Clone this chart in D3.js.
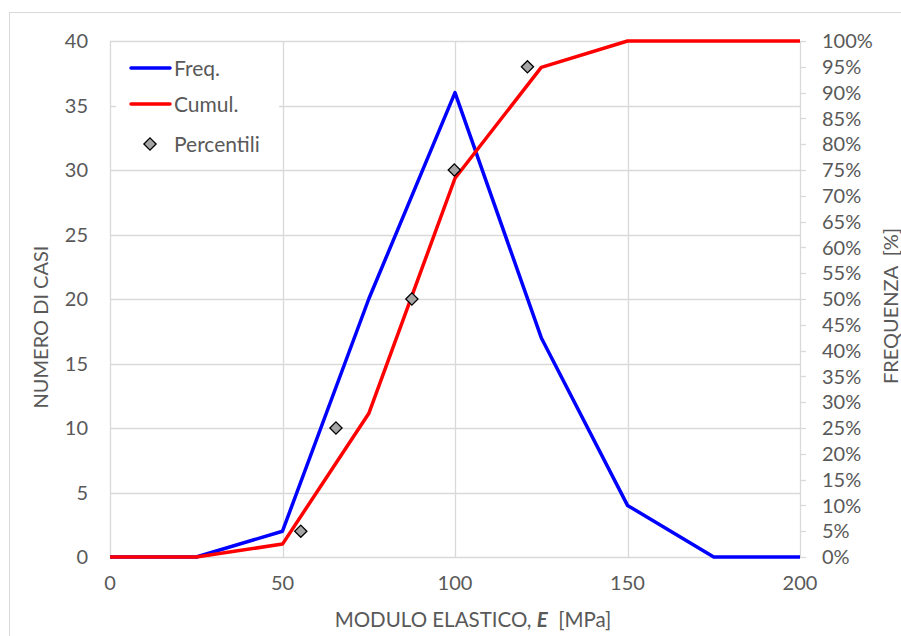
<!DOCTYPE html>
<html>
<head>
<meta charset="utf-8">
<script src="https://cdn.jsdelivr.net/npm/d3@7"></script>
<style>
  html, body { margin: 0; padding: 0; background: #fff; }
  svg { display: block; }
  text { font-family: Lato, "Open Sans", sans-serif; fill: #595959; }
</style>
</head>
<body>
<svg id="chart" width="901" height="636"></svg>
<script>
// Elastic modulus classes [MPa]
const moduli = [0, 25, 50, 75, 100, 125, 150, 175, 200];
// Number of cases per class
const frequency = [0, 0, 2, 20, 36, 17, 4, 0, 0];
// Cumulative frequency [%]
const cumulative = [0, 0, 2.5, 27.8, 73.4, 94.9, 100, 100, 100];
// Percentiles: modulus [MPa] and level [%]
const percentileE = [55.3, 65.5, 87.5, 99.8, 121];
const percentileLevel = [5, 25, 50, 75, 95];
// Axis ticks
const xTicks = [0, 50, 100, 150, 200];
const yTicks = [0, 5, 10, 15, 20, 25, 30, 35, 40];
const pctTicks = d3.range(0, 101, 5);

const svg = d3.select("#chart");
const plotL = 110, plotR = 800, plotT = 41, plotB = 557;

const x = d3.scaleLinear().domain([0, 200]).range([plotL, plotR]);
const y = d3.scaleLinear().domain([0, 40]).range([plotB, plotT]);
const yPct = d3.scaleLinear().domain([0, 100]).range([plotB, plotT]);

// chart frame
svg.append("rect").attr("x", 9.5).attr("y", 12.5).attr("width", 1000).attr("height", 1000)
  .attr("fill", "#fff").attr("stroke", "#d9d9d9");

// gridlines
const grid = svg.append("g").attr("stroke", "#d9d9d9").attr("stroke-width", 1.3);
grid.selectAll(".h").data(yTicks).join("line").attr("class", "h")
  .attr("x1", plotL).attr("x2", plotR)
  .attr("y1", d => Math.round(y(d)) + 0.5).attr("y2", d => Math.round(y(d)) + 0.5);
grid.selectAll(".v").data(xTicks).join("line").attr("class", "v")
  .attr("y1", plotT).attr("y2", plotB)
  .attr("x1", d => Math.round(x(d)) + 0.5).attr("x2", d => Math.round(x(d)) + 0.5);

// right axis tick marks
svg.append("g").attr("stroke", "#d9d9d9").attr("stroke-width", 1.3)
  .selectAll("line").data(pctTicks).join("line")
  .attr("x1", plotR).attr("x2", plotR + 6)
  .attr("y1", d => Math.round(yPct(d)) + 0.5).attr("y2", d => Math.round(yPct(d)) + 0.5);

// tick labels
const fs = 20;
svg.append("g").selectAll("text").data(yTicks).join("text")
  .attr("x", 88).attr("y", d => y(d)).attr("dy", "0.36em")
  .attr("text-anchor", "end").attr("font-size", fs).text(d => d);
svg.append("g").selectAll("text").data(xTicks).join("text")
  .attr("x", d => x(d)).attr("y", 590)
  .attr("text-anchor", "middle").attr("font-size", fs).text(d => d);
svg.append("g").selectAll("text").data(pctTicks).join("text")
  .attr("x", 822).attr("y", d => yPct(d)).attr("dy", "0.36em")
  .attr("text-anchor", "start").attr("font-size", fs).text(d => d + "%");

// axis titles
const xt = svg.append("text").attr("x", 473).attr("y", 627)
  .attr("text-anchor", "middle").attr("font-size", 20.5).attr("xml:space", "preserve");
xt.append("tspan").text("MODULO ELASTICO, ");
xt.append("tspan").attr("font-weight", "bold").attr("font-style", "italic").text("E");
xt.append("tspan").text("  [MPa]");

svg.append("text").attr("transform", "translate(48,327) rotate(-90)")
  .attr("text-anchor", "middle").attr("font-size", fs).text("NUMERO DI CASI");
svg.append("text").attr("transform", "translate(898,306) rotate(-90)")
  .attr("text-anchor", "middle").attr("font-size", fs).attr("xml:space", "preserve")
  .text("FREQUENZA  [%]");

// series
const freqLine = d3.line().x((d, i) => x(moduli[i])).y(d => y(d));
const cumLine = d3.line().x((d, i) => x(moduli[i])).y(d => yPct(d));

svg.append("path").datum(frequency).attr("d", freqLine)
  .attr("fill", "none").attr("stroke", "#0000ff").attr("stroke-width", 3.5)
  .attr("stroke-linejoin", "round");
svg.append("path").datum(cumulative).attr("d", cumLine)
  .attr("fill", "none").attr("stroke", "#ff0000").attr("stroke-width", 3.5)
  .attr("stroke-linejoin", "round");

const diamond = d3.symbol().type(d3.symbolDiamond2).size(95);
svg.append("g").selectAll("path").data(percentileE).join("path")
  .attr("transform", (d, i) => `translate(${x(d)},${yPct(percentileLevel[i])})`)
  .attr("d", diamond)
  .attr("fill", "#a5a5a5").attr("stroke", "#000").attr("stroke-width", 1.3);

// legend
const lg = svg.append("g");
lg.append("rect").attr("x", 116).attr("y", 46).attr("width", 163).attr("height", 118).attr("fill", "#fff");
const items = [
  { label: "Freq.", color: "#0000ff", y: 68 },
  { label: "Cumul.", color: "#ff0000", y: 104 }
];
items.forEach(it => {
  lg.append("line").attr("x1", 131).attr("x2", 170).attr("y1", it.y).attr("y2", it.y)
    .attr("stroke", it.color).attr("stroke-width", 3.5).attr("stroke-linecap", "round");
  lg.append("text").attr("x", 174).attr("y", it.y).attr("dy", "0.36em")
    .attr("font-size", 21).text(it.label);
});
lg.append("path").attr("transform", "translate(150,144)").attr("d", diamond)
  .attr("fill", "#a5a5a5").attr("stroke", "#000").attr("stroke-width", 1.3);
lg.append("text").attr("x", 174).attr("y", 144).attr("dy", "0.36em")
  .attr("font-size", 21).text("Percentili");
</script>
</body>
</html>
